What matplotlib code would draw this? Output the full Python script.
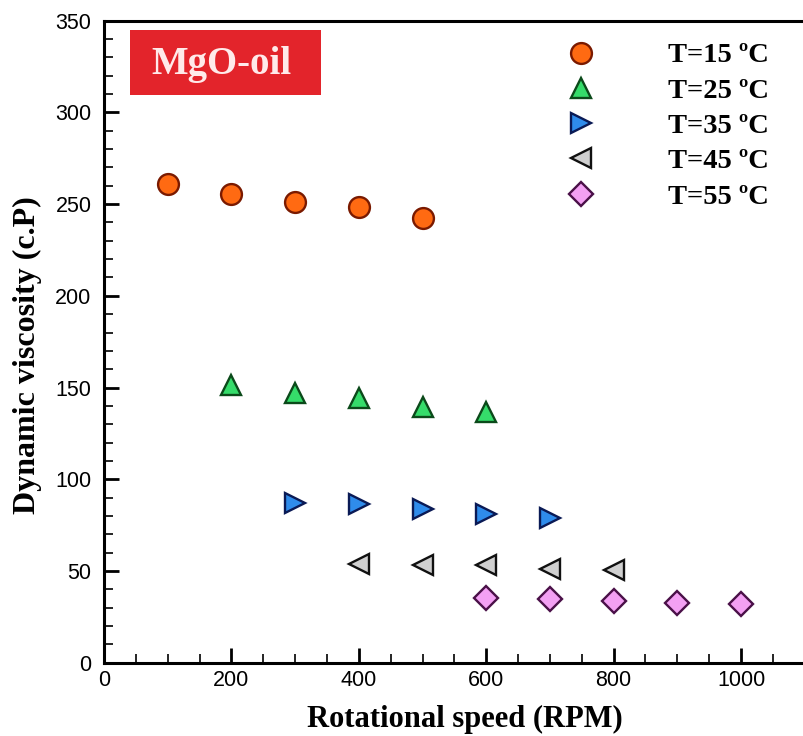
import numpy as np
import matplotlib
matplotlib.use("Agg")
import matplotlib.pyplot as plt
from matplotlib.ticker import MultipleLocator
from matplotlib.patches import Rectangle

# data
rpm_15 = [100, 200, 300, 400, 500]
visc_15 = [261, 255.5, 251, 248.5, 242.5]
rpm_25 = [200, 300, 400, 500, 600]
visc_25 = [151.5, 147, 144.3, 139.5, 136.5]
rpm_35 = [300, 400, 500, 600, 700]
visc_35 = [87, 86.5, 84, 81, 79]
rpm_45 = [400, 500, 600, 700, 800]
visc_45 = [54, 53.5, 53, 51, 50.5]
rpm_55 = [600, 700, 800, 900, 1000]
visc_55 = [35.3, 34.7, 33.6, 32.5, 32]
labels = ["T=15 \u00baC", "T=25 \u00baC", "T=35 \u00baC", "T=45 \u00baC", "T=55 \u00baC"]

serif = "Liberation Serif"
sans = "Liberation Sans"

fig = plt.figure(figsize=(8.04, 7.36), dpi=100)
ax = fig.add_axes([0.1294, 0.0996, 0.8715, 0.8723])

styles = [
    ("o", "#FF6A12", "#7A1A00", 15),
    ("^", "#35DC6A", "#0B4A1A", 15),
    (">", "#2F8CEB", "#0A1A55", 15),
    ("<", "#D0D0D0", "#111111", 15),
    ("D", "#F3A0F3", "#4A1048", 12.5),
]
series = [(rpm_15, visc_15), (rpm_25, visc_25), (rpm_35, visc_35),
          (rpm_45, visc_45), (rpm_55, visc_55)]

for (x, y), (m, fc, ec, ms), lab in zip(series, styles, labels):
    ax.plot(x, y, linestyle="none", marker=m, markersize=ms,
            markerfacecolor=fc, markeredgecolor=ec, markeredgewidth=1.7,
            label=lab)

ax.set_xlim(0, 1100)
ax.set_ylim(0, 350)
ax.xaxis.set_major_locator(MultipleLocator(200))
ax.xaxis.set_minor_locator(MultipleLocator(50))
ax.yaxis.set_major_locator(MultipleLocator(50))
ax.yaxis.set_minor_locator(MultipleLocator(10))
ax.tick_params(which="major", direction="in", length=11, width=2,
               labelsize=15.5)
ax.tick_params(which="minor", direction="in", length=6.5, width=1.2)
ax.tick_params(axis="x", pad=5)
ax.tick_params(axis="y", pad=9)
for lbl in ax.get_xticklabels() + ax.get_yticklabels():
    lbl.set_fontfamily(sans)
for s in ax.spines.values():
    s.set_linewidth(2.2)

ax.set_xlabel("Rotational speed (RPM)", fontsize=22, fontweight="bold",
              family=serif)
ax.xaxis.set_label_coords(0.515, -0.065)
ax.set_ylabel("Dynamic viscosity (c.P)", fontsize=23, fontweight="bold",
              family=serif)
ax.yaxis.set_label_coords(-0.088, 0.479)

leg = ax.legend(loc="upper left", bbox_to_anchor=(0.6115, 0.997), frameon=False,
                prop={"family": serif, "weight": "bold", "size": 20.5},
                handletextpad=2.05, labelspacing=0.33, borderaxespad=0.3)

ax.add_patch(Rectangle((0.037, 0.884), 0.273, 0.1015, transform=ax.transAxes,
                       facecolor="#E3242B", edgecolor="none", zorder=3))
ax.text(0.167, 0.932, "MgO-oil", transform=ax.transAxes, fontsize=28,
        fontweight="bold", family=serif, color="#FFEAEA", ha="center",
        va="center", zorder=4)

fig.savefig("out.png", dpi=100)
